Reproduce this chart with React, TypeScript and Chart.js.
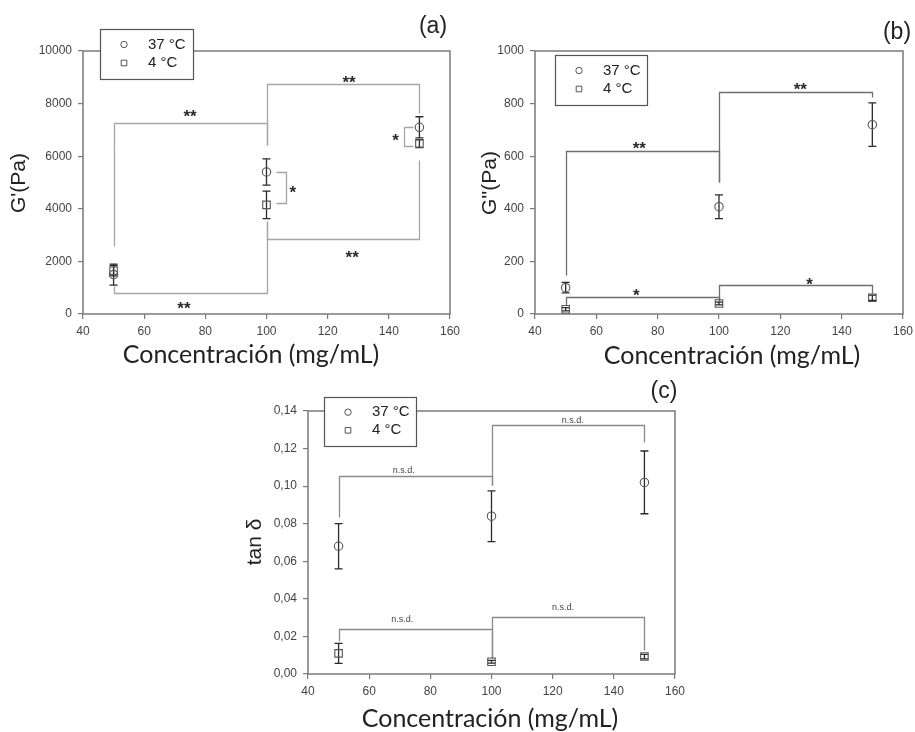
import React, { useEffect, useRef } from "react";
import { Chart, registerables } from "chart.js";

Chart.register(...registerables);

// Sample concentrations (mg/mL)
const concentrations = [50, 100, 150];

// G' storage modulus (Pa)
const storage37 = [1500, 5400, 7100];
const storage37Err = [400, 500, 400];
const storage4 = [1650, 4150, 6480];
const storage4Err = [200, 525, 150];

// G'' loss modulus (Pa)
const loss37 = [100, 408, 720];
const loss37Err = [20, 45, 83];
const loss4 = [18, 40, 62];
const loss4Err = [6, 5, 10];

// tan δ
const tanDelta37 = [0.068, 0.084, 0.102];
const tanDelta37Err = [0.012, 0.0135, 0.0167];
const tanDelta4 = [0.011, 0.0065, 0.0093];
const tanDelta4Err = [0.0053, 0.0007, 0.0012];

const seriesLabels = ["37 °C", "4 °C"];
const xTitle = "Concentración (mg/mL)";
const xTicks = { min: 40, max: 160, step: 20 };

// Significance brackets: polyline in data units, label and its centre
type Bracket = { path: [number, number][]; label: string; at: [number, number] };

const storageBrackets: Bracket[] = [
  { path: [[50, 2600], [50, 7250], [100, 7250], [100, 6430]], label: "**", at: [75, 7660] },
  { path: [[100, 6430], [100, 8730], [150, 8730], [150, 7630]], label: "**", at: [127, 8940] },
  { path: [[50, 1050], [50, 800], [100, 800], [100, 3550]], label: "**", at: [73, 350] },
  { path: [[100, 3550], [100, 2850], [150, 2850], [150, 5860]], label: "**", at: [128, 2290] },
  { path: [[103.2, 5390], [106.5, 5390], [106.5, 4215], [103.2, 4215]], label: "*", at: [108.6, 4760] },
  { path: [[148, 7125], [144.8, 7125], [144.8, 6390], [148, 6390]], label: "*", at: [142.2, 6750] },
];

const lossBrackets: Bracket[] = [
  { path: [[50, 150], [50, 618], [100, 618], [100, 503]], label: "**", at: [74, 643] },
  { path: [[100, 503], [100, 845], [150, 845], [150, 825]], label: "**", at: [126.5, 867] },
  { path: [[50, 36], [50, 63], [100, 63], [100, 50]], label: "*", at: [73, 84] },
  { path: [[100, 50], [100, 112], [150, 112], [150, 80]], label: "*", at: [129.5, 127] },
];

const tanDeltaBrackets: Bracket[] = [
  { path: [[50, 0.0836], [50, 0.1053], [100, 0.1053], [100, 0.1005]], label: "n.s.d.", at: [71.3, 0.1085] },
  { path: [[100, 0.1005], [100, 0.1324], [150, 0.1324], [150, 0.1235]], label: "n.s.d.", at: [126.6, 0.1352] },
  { path: [[50, 0.0175], [50, 0.0237], [100, 0.0237], [100, 0.0083]], label: "n.s.d.", at: [70.8, 0.0292] },
  { path: [[100, 0.0083], [100, 0.0305], [150, 0.0305], [150, 0.0128]], label: "n.s.d.", at: [123.4, 0.0355] },
];

type Panel = {
  tag: string;
  yTitle: string;
  yMax: number;
  yStep: number;
  decimals: number;
  s37: number[];
  e37: number[];
  s4: number[];
  e4: number[];
  brackets: Bracket[];
  bracketColor: string;
  labelSize: number;
  box: { left: number; top: number; width: number; height: number };
  area: { left: number; top: number; right: number; bottom: number };
  yTitleAt: [number, number];
  xTitleAt: [number, number];
  tagAt: [number, number];
  legend: [number, number, number, number];
};

const panels: Panel[] = [
  {
    tag: "(a)", yTitle: "G'(Pa)", yMax: 10000, yStep: 2000, decimals: 0,
    s37: storage37, e37: storage37Err, s4: storage4, e4: storage4Err,
    brackets: storageBrackets, bracketColor: "#a6a6a6", labelSize: 17,
    box: { left: 0, top: 0, width: 472, height: 370 },
    area: { left: 83, top: 51, right: 450, bottom: 314 },
    yTitleAt: [19, 183], xTitleAt: [251, 355], tagAt: [433, 27], legend: [100, 29, 93, 50],
  },
  {
    tag: "(b)", yTitle: "G''(Pa)", yMax: 1000, yStep: 200, decimals: 0,
    s37: loss37, e37: loss37Err, s4: loss4, e4: loss4Err,
    brackets: lossBrackets, bracketColor: "#6e6e6e", labelSize: 17,
    box: { left: 457, top: 0, width: 458, height: 370 },
    area: { left: 78, top: 51, right: 446, bottom: 314 },
    yTitleAt: [33, 183], xTitleAt: [275, 356], tagAt: [440, 33], legend: [98, 55, 92, 50],
  },
  {
    tag: "(c)", yTitle: "tan δ", yMax: 0.14, yStep: 0.02, decimals: 2,
    s37: tanDelta37, e37: tanDelta37Err, s4: tanDelta4, e4: tanDelta4Err,
    brackets: tanDeltaBrackets, bracketColor: "#8a8a8a", labelSize: 9,
    box: { left: 230, top: 370, width: 460, height: 362 },
    area: { left: 78, top: 41, right: 445, bottom: 304 },
    yTitleAt: [25, 172], xTitleAt: [260, 349], tagAt: [434, 22], legend: [94, 27, 92, 49],
  },
];

const markerColor = "#555";
const errorColor = "#2a2a2a";
const frameColor = "#7a7a7a";
const textColor = "#222";

function drawMarker(ctx: CanvasRenderingContext2D, kind: "circle" | "square", x: number, y: number, r: number) {
  ctx.beginPath();
  if (kind === "circle") ctx.arc(x, y, r, 0, Math.PI * 2);
  else ctx.rect(x - r, y - r, 2 * r, 2 * r);
  ctx.stroke();
}

function makeDecor(p: Panel) {
  return {
    id: "panelDecor",
    beforeDatasetsDraw(chart: any) {
      const { ctx, chartArea: a } = chart;
      const xs = chart.scales.x;
      const ys = chart.scales.y;
      ctx.save();
      // plot frame
      ctx.strokeStyle = frameColor;
      ctx.lineWidth = 1.5;
      ctx.strokeRect(a.left, a.top, a.right - a.left, a.bottom - a.top);
      // significance brackets
      ctx.strokeStyle = p.bracketColor;
      ctx.lineWidth = 1.3;
      p.brackets.forEach((b) => {
        ctx.beginPath();
        b.path.forEach(([vx, vy], i) => {
          const px = Math.round(xs.getPixelForValue(vx)) + 0.5;
          const py = Math.round(ys.getPixelForValue(vy)) + 0.5;
          if (i === 0) ctx.moveTo(px, py);
          else ctx.lineTo(px, py);
        });
        ctx.stroke();
      });
      // error bars
      ctx.strokeStyle = errorColor;
      ctx.lineWidth = 1.3;
      const bars = (vals: number[], errs: number[]) => {
        vals.forEach((v, i) => {
          const px = xs.getPixelForValue(concentrations[i]);
          const top = ys.getPixelForValue(v + errs[i]);
          const bot = ys.getPixelForValue(v - errs[i]);
          ctx.beginPath();
          ctx.moveTo(px, top);
          ctx.lineTo(px, bot);
          ctx.moveTo(px - 4, top);
          ctx.lineTo(px + 4, top);
          ctx.moveTo(px - 4, bot);
          ctx.lineTo(px + 4, bot);
          ctx.stroke();
        });
      };
      bars(p.s37, p.e37);
      bars(p.s4, p.e4);
      ctx.restore();
    },
    afterDraw(chart: any) {
      const { ctx } = chart;
      const xs = chart.scales.x;
      const ys = chart.scales.y;
      ctx.save();
      // bracket labels; asterisks sit high in the em box, so centre them by their glyph
      ctx.textAlign = "center";
      p.brackets.forEach((b) => {
        const px = xs.getPixelForValue(b.at[0]);
        const py = ys.getPixelForValue(b.at[1]);
        if (b.label.includes("*")) {
          ctx.fillStyle = "#2a2a2a";
          ctx.font = `bold ${p.labelSize}px 'Liberation Sans', Arial`;
          ctx.textBaseline = "alphabetic";
          ctx.fillText(b.label, px, py + p.labelSize * 0.56);
        } else {
          ctx.fillStyle = "#444";
          ctx.font = `${p.labelSize}px 'Liberation Sans', Arial`;
          ctx.textBaseline = "middle";
          ctx.fillText(b.label, px, py);
        }
      });
      // legend
      const [lx, ly, lw, lh] = p.legend;
      ctx.fillStyle = "#fff";
      ctx.fillRect(lx, ly, lw, lh);
      ctx.strokeStyle = "#555";
      ctx.lineWidth = 1.2;
      ctx.strokeRect(lx + 0.5, ly + 0.5, lw, lh);
      const rows = [ly + lh * 0.31, ly + lh * 0.68];
      ctx.strokeStyle = markerColor;
      ctx.lineWidth = 1;
      drawMarker(ctx, "circle", lx + 24, rows[0], 3.2);
      drawMarker(ctx, "square", lx + 24, rows[1], 2.8);
      ctx.fillStyle = textColor;
      ctx.font = "15px 'Liberation Sans', Arial";
      ctx.textAlign = "left";
      ctx.textBaseline = "middle";
      ctx.fillText(seriesLabels[0], lx + 48, rows[0]);
      ctx.fillText(seriesLabels[1], lx + 48, rows[1]);
      // axis titles and panel tag
      ctx.textAlign = "center";
      ctx.font = "21px 'Liberation Sans', Arial";
      ctx.save();
      ctx.translate(p.yTitleAt[0], p.yTitleAt[1]);
      ctx.rotate(-Math.PI / 2);
      ctx.fillText(p.yTitle, 0, 0);
      ctx.restore();
      ctx.font = "25px Lato, 'Open Sans', sans-serif";
      ctx.fillText(xTitle, p.xTitleAt[0], p.xTitleAt[1]);
      ctx.font = "23px 'Liberation Sans', Arial";
      ctx.fillText(p.tag, p.tagAt[0], p.tagAt[1]);
      ctx.restore();
    },
  };
}

function PanelChart({ p }: { p: Panel }) {
  const ref = useRef<HTMLCanvasElement | null>(null);
  useEffect(() => {
    if (!ref.current) return;
    const fmt = (v: number) => (p.decimals ? v.toFixed(p.decimals).replace(".", ",") : String(Math.round(v)));
    const toPoints = (vals: number[]) => vals.map((v, i) => ({ x: concentrations[i], y: v }));
    const chart = new Chart(ref.current, {
      type: "scatter",
      data: {
        datasets: [
          {
            label: seriesLabels[0], data: toPoints(p.s37), pointStyle: "circle", pointRadius: 4.2,
            borderColor: markerColor, backgroundColor: "rgba(255,255,255,0)", borderWidth: 1.1,
          },
          {
            label: seriesLabels[1], data: toPoints(p.s4), pointStyle: "rect", pointRadius: 5.3,
            borderColor: markerColor, backgroundColor: "rgba(255,255,255,0)", borderWidth: 1.1,
          },
        ],
      },
      options: {
        animation: false,
        responsive: false,
        devicePixelRatio: 1,
        layout: {
          padding: { top: p.area.top, right: p.box.width - p.area.right, left: 0, bottom: 0 },
        },
        plugins: { legend: { display: false }, tooltip: { enabled: false } },
        scales: {
          x: {
            type: "linear",
            min: xTicks.min,
            max: xTicks.max,
            afterFit: (s: any) => {
              s.height = p.box.height - p.area.bottom;
              s.paddingLeft = 0;
              s.paddingRight = 0;
            },
            ticks: {
              stepSize: xTicks.step,
              color: "#444",
              padding: 5,
              font: { family: "'Liberation Sans', Arial", size: 12 },
            },
            grid: { drawOnChartArea: false, drawTicks: true, tickLength: 5, color: frameColor, lineWidth: 1.2 },
            border: { display: false },
          },
          y: {
            type: "linear",
            min: 0,
            max: p.yMax,
            afterFit: (s: any) => {
              s.width = p.area.left;
              s.paddingTop = 0;
              s.paddingBottom = 0;
            },
            ticks: {
              stepSize: p.yStep,
              color: "#444",
              padding: 6,
              font: { family: "'Liberation Sans', Arial", size: 12 },
              callback: (v: any) => fmt(Number(v)),
            },
            grid: { drawOnChartArea: false, drawTicks: true, tickLength: 5, color: frameColor, lineWidth: 1.2 },
            border: { display: false },
          },
        },
      },
      plugins: [makeDecor(p)],
    } as any);
    return () => chart.destroy();
  }, [p]);
  return (
    <canvas
      ref={ref}
      width={p.box.width}
      height={p.box.height}
      style={{ position: "absolute", left: p.box.left, top: p.box.top, width: p.box.width, height: p.box.height }}
    />
  );
}

export default function App() {
  return (
    <div style={{ position: "absolute", left: 0, top: 0, width: 915, height: 732, background: "#fff", overflow: "hidden" }}>
      {panels.map((p) => (
        <PanelChart key={p.tag} p={p} />
      ))}
    </div>
  );
}
